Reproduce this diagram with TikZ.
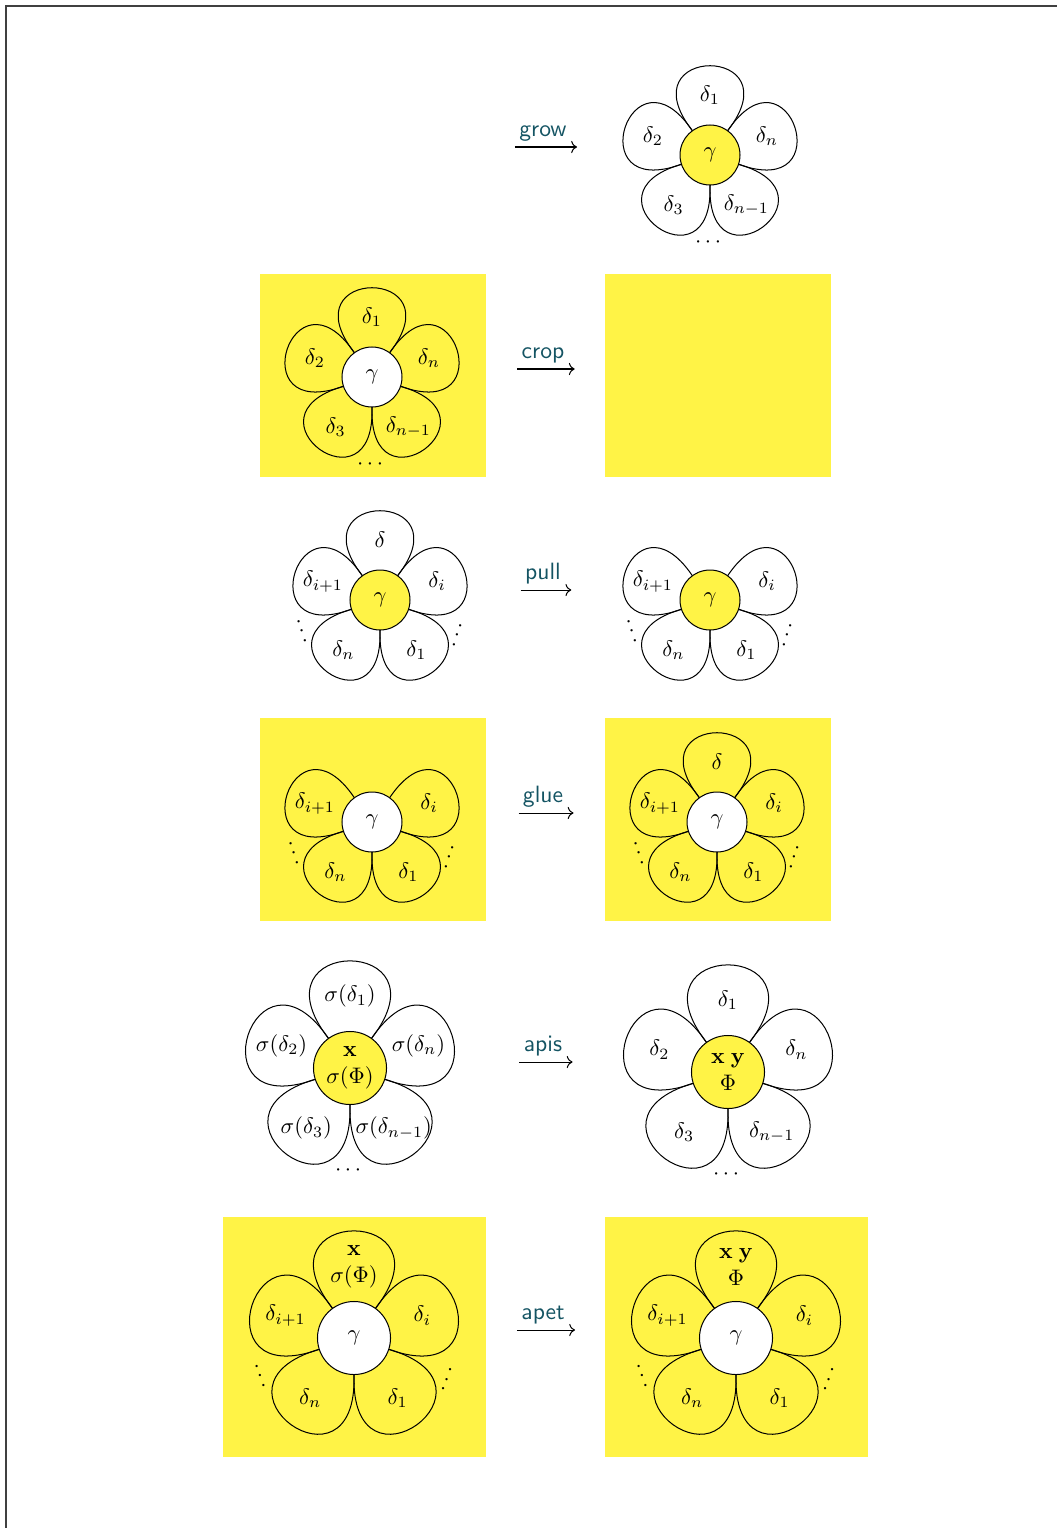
\documentclass[tikz,border=0pt]{standalone}
\usepackage{amsmath,amssymb}
\usepackage{xcolor}
\usepackage{tikz}
\usetikzlibrary{arrows.meta}

\definecolor{petalyellow}{RGB}{255,243,70}
\definecolor{opteal}{RGB}{20,84,99}

\begin{document}
\begin{tikzpicture}[
    x=0.445pt, y=0.445pt,
    >={To},
    petal/.style={draw=black, line width=0.45pt, insert path={(126:30) .. controls +(128:110) and +(52:110) .. (54:30)}},
    core/.style={circle, draw=black, line width=0.45pt, fill=#1, minimum size=26.7pt, inner sep=0pt, align=center},
    core/.default={petalyellow},
    bigcore/.style={core=#1, minimum size=32.5pt},
    bigcore/.default={petalyellow},
    bg/.style={fill=petalyellow},
    lbl/.style={font=\sffamily\fontsize{10.5}{12}\selectfont, text=opteal, inner sep=0pt, anchor=base},
    arr/.style={->, line width=0.45pt},
    dots/.style={inner sep=0pt}
]
\useasboundingbox (0,0) rectangle (1057,-1528);
\draw[black!75, line width=0.5pt] (6,-1528) -- (6,-6) -- (1057,-6);

% grow
\node[lbl] (grow) at (543,-136) {grow};
\draw[arr] ([shift={(-4,-11)}]grow.base west) -- ([shift={(10,-11)}]grow.base east);
\begin{scope}[shift={(710,-155)}]
  \path[petal]; \path[rotate=72, petal]; \path[rotate=144, petal];
  \path[rotate=-72, petal]; \path[rotate=-144, petal];
  \node[core] (gr-c) at (0,0) {$\gamma$};
  \node (gr-1) at (90:60) {$\delta_1$};
  \node (gr-2) at (162:60) {$\delta_2$};
  \node (gr-n) at (18:60) {$\delta_n$};
  \node (gr-3) at (234:62) {$\delta_3$};
  \node (gr-m) at (306:62) {$\delta_{n-1}$};
  \node[dots] (gr-d) at (270:88) {$\cdots$};
\end{scope}

% crop
\fill[bg] (260,-274) rectangle (486,-477);
\fill[bg] (605,-274) rectangle (831,-477);
\node[lbl] (crop) at (543,-358) {crop};
\draw[arr] ([shift={(-4,-11)}]crop.base west) -- ([shift={(10,-11)}]crop.base east);
\begin{scope}[shift={(372,-377)}]
  \path[petal]; \path[rotate=72, petal]; \path[rotate=144, petal];
  \path[rotate=-72, petal]; \path[rotate=-144, petal];
  \node[core=white] (cr-c) at (0,0) {$\gamma$};
  \node (cr-1) at (90:60) {$\delta_1$};
  \node (cr-2) at (162:60) {$\delta_2$};
  \node (cr-n) at (18:60) {$\delta_n$};
  \node (cr-3) at (234:62) {$\delta_3$};
  \node (cr-m) at (306:62) {$\delta_{n-1}$};
  \node[dots] (cr-d) at (270:88) {$\cdots$};
\end{scope}

% pull
\node[lbl] (pull) at (543,-579) {pull};
\draw[arr] ([shift={(-4,-11)}]pull.base west) -- ([shift={(10,-11)}]pull.base east);
\begin{scope}[shift={(380,-600)}]
  \path[petal]; \path[rotate=72, petal]; \path[rotate=144, petal];
  \path[rotate=-72, petal]; \path[rotate=-144, petal];
  \node[core] (pl-c) at (0,0) {$\gamma$};
  \node (pl-0) at (90:60) {$\delta$};
  \node (pl-j) at (162:60) {$\delta_{i+1}$};
  \node (pl-i) at (18:60) {$\delta_i$};
  \node (pl-n) at (234:62) {$\delta_n$};
  \node (pl-1) at (306:62) {$\delta_1$};
  \node[dots, rotate=-72] (pl-l) at (203:85) {$\cdots$};
  \node[dots, rotate=72] (pl-r) at (337:85) {$\cdots$};
\end{scope}
\begin{scope}[shift={(710,-600)}]
  \path[rotate=72, petal]; \path[rotate=144, petal];
  \path[rotate=-72, petal]; \path[rotate=-144, petal];
  \node[core] (pr-c) at (0,0) {$\gamma$};
  \node (pr-j) at (162:60) {$\delta_{i+1}$};
  \node (pr-i) at (18:60) {$\delta_i$};
  \node (pr-n) at (234:62) {$\delta_n$};
  \node (pr-1) at (306:62) {$\delta_1$};
  \node[dots, rotate=-72] (pr-l) at (203:85) {$\cdots$};
  \node[dots, rotate=72] (pr-r) at (337:85) {$\cdots$};
\end{scope}

% glue
\fill[bg] (260,-718) rectangle (486,-921);
\fill[bg] (605,-718) rectangle (831,-921);
\node[lbl] (glue) at (543,-802) {glue};
\draw[arr] ([shift={(-4,-11)}]glue.base west) -- ([shift={(10,-11)}]glue.base east);
\begin{scope}[shift={(372,-822)}]
  \path[rotate=72, petal]; \path[rotate=144, petal];
  \path[rotate=-72, petal]; \path[rotate=-144, petal];
  \node[core=white] (gl-c) at (0,0) {$\gamma$};
  \node (gl-j) at (162:60) {$\delta_{i+1}$};
  \node (gl-i) at (18:60) {$\delta_i$};
  \node (gl-n) at (234:62) {$\delta_n$};
  \node (gl-1) at (306:62) {$\delta_1$};
  \node[dots, rotate=-72] (gl-l) at (203:85) {$\cdots$};
  \node[dots, rotate=72] (gl-r) at (337:85) {$\cdots$};
\end{scope}
\begin{scope}[shift={(717,-822)}]
  \path[petal]; \path[rotate=72, petal]; \path[rotate=144, petal];
  \path[rotate=-72, petal]; \path[rotate=-144, petal];
  \node[core=white] (gu-c) at (0,0) {$\gamma$};
  \node (gu-0) at (90:60) {$\delta$};
  \node (gu-j) at (162:60) {$\delta_{i+1}$};
  \node (gu-i) at (18:60) {$\delta_i$};
  \node (gu-n) at (234:62) {$\delta_n$};
  \node (gu-1) at (306:62) {$\delta_1$};
  \node[dots, rotate=-72] (gu-l) at (203:85) {$\cdots$};
  \node[dots, rotate=72] (gu-r) at (337:85) {$\cdots$};
\end{scope}

% apis
\node[lbl] (apis) at (543,-1051) {apis};
\draw[arr] ([shift={(-4,-11)}]apis.base west) -- ([shift={(10,-11)}]apis.base east);
\begin{scope}[shift={(350,-1068)}, scale=1.2]
  \path[petal]; \path[rotate=72, petal]; \path[rotate=144, petal];
  \path[rotate=-72, petal]; \path[rotate=-144, petal];
  \node[bigcore] (al-c) at (0,0) {$\mathbf{x}$\\$\sigma(\Phi)$};
  \node (al-1) at (90:60) {$\sigma(\delta_1)$};
  \node (al-2) at (162:60) {$\sigma(\delta_2)$};
  \node (al-n) at (18:60) {$\sigma(\delta_n)$};
  \node (al-3) at (234:62) {$\sigma(\delta_3)$};
  \node (al-m) at (306:62) {$\sigma(\delta_{n-1})$};
  \node[dots] (al-d) at (270:85) {$\cdots$};
\end{scope}
\begin{scope}[shift={(728,-1072)}, scale=1.2]
  \path[petal]; \path[rotate=72, petal]; \path[rotate=144, petal];
  \path[rotate=-72, petal]; \path[rotate=-144, petal];
  \node[bigcore] (ar-c) at (0,0) {$\mathbf{x}\;\mathbf{y}$\\$\Phi$};
  \node (ar-1) at (90:60) {$\delta_1$};
  \node (ar-2) at (162:60) {$\delta_2$};
  \node (ar-n) at (18:60) {$\delta_n$};
  \node (ar-3) at (234:62) {$\delta_3$};
  \node (ar-m) at (306:62) {$\delta_{n-1}$};
  \node[dots] (ar-d) at (270:85) {$\cdots$};
\end{scope}

% apet
\fill[bg] (223,-1217) rectangle (486,-1457);
\fill[bg] (605,-1217) rectangle (868,-1457);
\node[lbl] (apet) at (543,-1319) {apet};
\draw[arr] ([shift={(-4,-11)}]apet.base west) -- ([shift={(10,-11)}]apet.base east);
\begin{scope}[shift={(354,-1338)}, scale=1.2]
  \path[petal]; \path[rotate=72, petal]; \path[rotate=144, petal];
  \path[rotate=-72, petal]; \path[rotate=-144, petal];
  \node[bigcore=white] (el-c) at (0,0) {$\gamma$};
  \node[align=center] (el-0) at (90:59) {$\mathbf{x}$\\$\sigma(\Phi)$};
  \node (el-j) at (162:60) {$\delta_{i+1}$};
  \node (el-i) at (18:60) {$\delta_i$};
  \node (el-n) at (234:62) {$\delta_n$};
  \node (el-1) at (306:62) {$\delta_1$};
  \node[dots, rotate=-70] (el-l) at (203:85) {$\cdots$};
  \node[dots, rotate=70] (el-r) at (337:85) {$\cdots$};
\end{scope}
\begin{scope}[shift={(736,-1338)}, scale=1.2]
  \path[petal]; \path[rotate=72, petal]; \path[rotate=144, petal];
  \path[rotate=-72, petal]; \path[rotate=-144, petal];
  \node[bigcore=white] (er-c) at (0,0) {$\gamma$};
  \node[align=center] (er-0) at (90:59) {$\mathbf{x}\;\mathbf{y}$\\$\Phi$};
  \node (er-j) at (162:60) {$\delta_{i+1}$};
  \node (er-i) at (18:60) {$\delta_i$};
  \node (er-n) at (234:62) {$\delta_n$};
  \node (er-1) at (306:62) {$\delta_1$};
  \node[dots, rotate=-70] (er-l) at (203:85) {$\cdots$};
  \node[dots, rotate=70] (er-r) at (337:85) {$\cdots$};
\end{scope}

\end{tikzpicture}
\end{document}
